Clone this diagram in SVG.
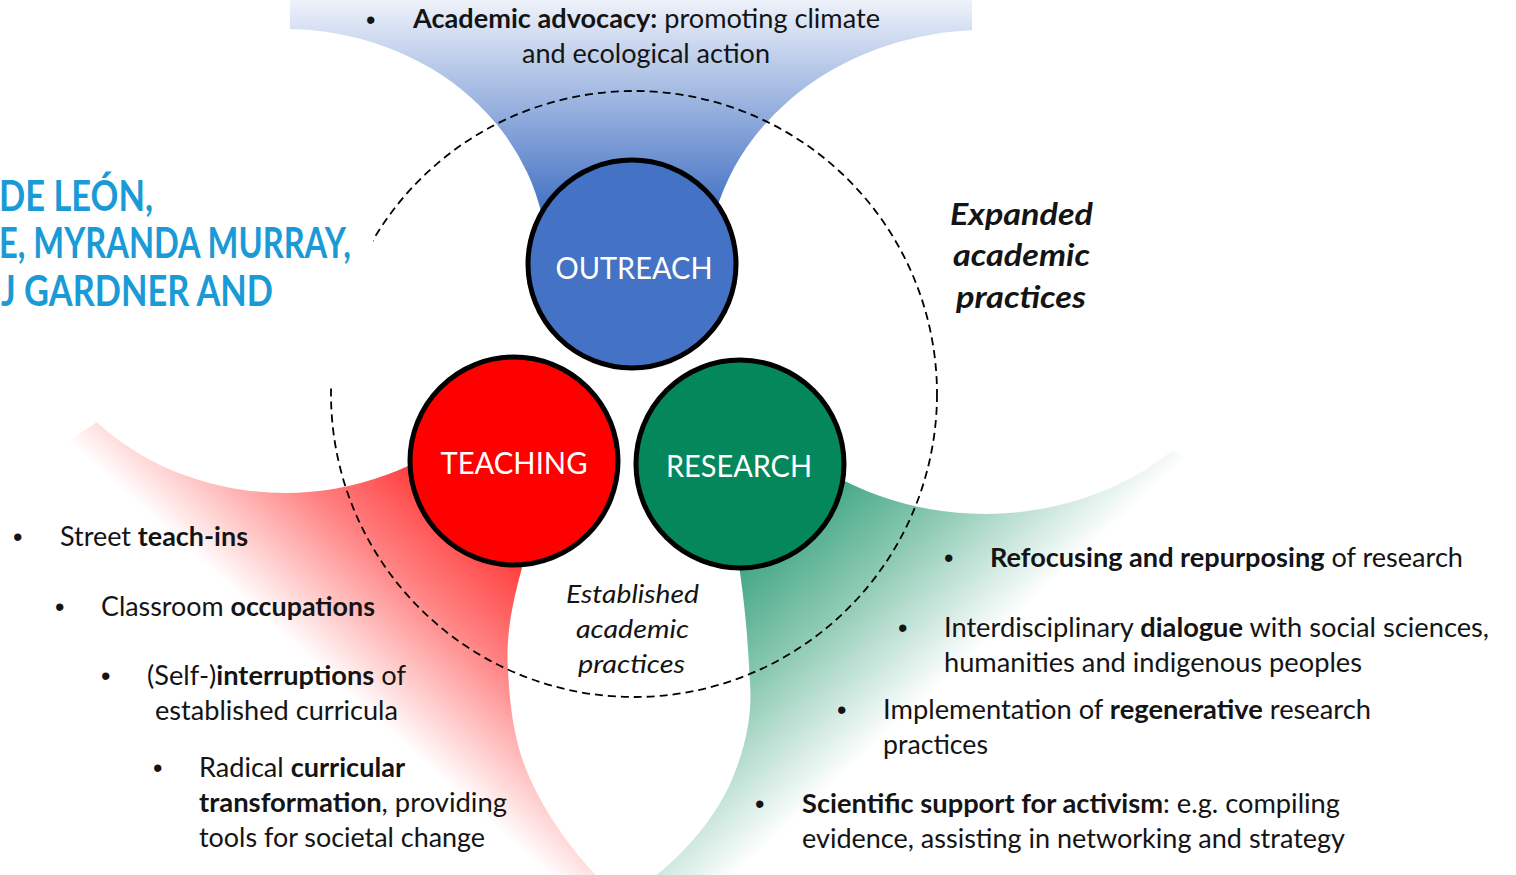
<svg xmlns="http://www.w3.org/2000/svg" width="1516" height="875" viewBox="0 0 1516 875">
<style>
.t{font-family:Lato,"Liberation Sans",sans-serif;font-size:26px;fill:#141414}
.b{font-weight:bold}
.bul{font-family:"Liberation Sans",sans-serif;font-size:27px;fill:#141414}
.lab{font-family:Lato,"Liberation Sans",sans-serif;font-size:31px;fill:#ffffff;text-anchor:middle}
.ital{font-family:Lato,"Liberation Sans",sans-serif;font-style:italic;fill:#141414}
.ttl{font-family:Lato,"Liberation Sans",sans-serif;font-weight:bold;font-size:42px;fill:#1a9ad6}
.node{stroke:#000;stroke-width:5}
.white{fill:#ffffff}
</style>
<defs>
<linearGradient id="gBlue" gradientUnits="userSpaceOnUse" x1="0" y1="0" x2="0" y2="210">
<stop offset="0" stop-color="#eef2fa"/>
<stop offset="1" stop-color="#4472c4"/>
</linearGradient>
<linearGradient id="gRed" gradientUnits="userSpaceOnUse" x1="250" y1="268" x2="82" y2="454">
<stop offset="0" stop-color="#ff2020"/>
<stop offset="0.5" stop-color="#ff8282"/>
<stop offset="1" stop-color="#ffffff"/>
</linearGradient>
<linearGradient id="gGreen" gradientUnits="userSpaceOnUse" x1="1026" y1="270" x2="1194" y2="452">
<stop offset="0" stop-color="#2f9d78"/>
<stop offset="0.5" stop-color="#8fcbb5"/>
<stop offset="1" stop-color="#ffffff"/>
</linearGradient>
</defs>
<rect width="1516" height="875" fill="#ffffff"/>
<g id="fans">
<rect x="290" y="0" width="682" height="235" fill="url(#gBlue)"/>
<path d="M100,420 L460,400 L560,560 L650,900 L540,911 L40,460 Z" fill="url(#gRed)"/>
<path d="M1166,448 L790,380 L700,560 L610,900 L725,931 L1225,470 Z" fill="url(#gGreen)"/>
<ellipse class="white" cx="285" cy="261" rx="262" ry="232"/>
<ellipse class="white" cx="985" cy="272" rx="278" ry="242"/>
<path class="white" d="M530,540 C515,590 505,630 508,670 C511,730 520,760 537,793 C552,822 572,850 600,880 L650,880 C690,850 720,810 733,777 C748,740 752,710 750,683 C748,640 745,600 735,540 Z"/>
</g>
<g id="connectors">
<circle cx="634" cy="394" r="303" fill="none" stroke="#000" stroke-width="1.8" stroke-dasharray="8 5"/>
</g>
<g id="title">
<rect x="0" y="140" width="373" height="244" fill="#ffffff"/>
<text class="ttl" x="-1" y="211" textLength="154" lengthAdjust="spacingAndGlyphs">DE LEÓN,</text>
<text class="ttl" x="-1" y="258" textLength="352" lengthAdjust="spacingAndGlyphs">E, MYRANDA MURRAY,</text>
<text class="ttl" x="1" y="306" textLength="272" lengthAdjust="spacingAndGlyphs">J GARDNER AND</text>
</g>
<g id="outreach">
<circle class="node" cx="632" cy="264" r="104" fill="#4472c4"/>
<text class="lab" x="634" y="279" textLength="157" lengthAdjust="spacingAndGlyphs">OUTREACH</text>
</g>
<g id="teaching">
<circle class="node" cx="514" cy="461" r="104" fill="#ff0000"/>
<text class="lab" x="514" y="474" textLength="147" lengthAdjust="spacingAndGlyphs">TEACHING</text>
</g>
<g id="research">
<circle class="node" cx="740" cy="464" r="104" fill="#03875b"/>
<text class="lab" x="739" y="477" textLength="146" lengthAdjust="spacingAndGlyphs">RESEARCH</text>
</g>
<g id="outreach-text">
<text class="bul" x="366" y="29">•</text>
<text class="t" x="413" y="28" textLength="467" lengthAdjust="spacingAndGlyphs"><tspan class="b">Academic advocacy:</tspan> promoting climate</text>
<text class="t" x="522" y="63" textLength="248" lengthAdjust="spacingAndGlyphs">and ecological action</text>
</g>
<g id="expanded">
<text class="ital b" font-size="30" x="950" y="225" textLength="143" lengthAdjust="spacingAndGlyphs">Expanded</text>
<text class="ital b" font-size="30" x="953" y="266" textLength="137" lengthAdjust="spacingAndGlyphs">academic</text>
<text class="ital b" font-size="30" x="956" y="308" textLength="130" lengthAdjust="spacingAndGlyphs">practices</text>
</g>
<g id="established">
<text class="ital" font-size="26" x="566" y="603" textLength="133" lengthAdjust="spacingAndGlyphs">Established</text>
<text class="ital" font-size="26" x="576" y="638" textLength="113" lengthAdjust="spacingAndGlyphs">academic</text>
<text class="ital" font-size="26" x="578" y="673" textLength="107" lengthAdjust="spacingAndGlyphs">practices</text>
</g>
<g id="teaching-text">
<text class="bul" x="13" y="546">•</text>
<text class="t" x="60" y="546" textLength="188" lengthAdjust="spacingAndGlyphs">Street <tspan class="b">teach-ins</tspan></text>
<text class="bul" x="55" y="616">•</text>
<text class="t" x="101" y="616" textLength="274" lengthAdjust="spacingAndGlyphs">Classroom <tspan class="b">occupations</tspan></text>
<text class="bul" x="101" y="685">•</text>
<text class="t" x="147" y="685" textLength="259" lengthAdjust="spacingAndGlyphs">(Self-)<tspan class="b">interruptions</tspan> of</text>
<text class="t" x="155" y="720" textLength="243" lengthAdjust="spacingAndGlyphs">established curricula</text>
<text class="bul" x="153" y="777">•</text>
<text class="t" x="199" y="777" textLength="206" lengthAdjust="spacingAndGlyphs">Radical <tspan class="b">curricular</tspan></text>
<text class="t" x="199" y="812" textLength="308" lengthAdjust="spacingAndGlyphs"><tspan class="b">transformation</tspan>, providing</text>
<text class="t" x="199" y="847" textLength="286" lengthAdjust="spacingAndGlyphs">tools for societal change</text>
</g>
<g id="research-text">
<text class="bul" x="944" y="567">•</text>
<text class="t" x="990" y="567" textLength="473" lengthAdjust="spacingAndGlyphs"><tspan class="b">Refocusing and repurposing</tspan> of research</text>
<text class="bul" x="898" y="637">•</text>
<text class="t" x="944" y="637" textLength="545" lengthAdjust="spacingAndGlyphs">Interdisciplinary <tspan class="b">dialogue</tspan> with social sciences,</text>
<text class="t" x="944" y="672" textLength="418" lengthAdjust="spacingAndGlyphs">humanities and indigenous peoples</text>
<text class="bul" x="837" y="719">•</text>
<text class="t" x="883" y="719" textLength="488" lengthAdjust="spacingAndGlyphs">Implementation of <tspan class="b">regenerative</tspan> research</text>
<text class="t" x="883" y="754" textLength="105" lengthAdjust="spacingAndGlyphs">practices</text>
<text class="bul" x="755" y="813">•</text>
<text class="t" x="802" y="813" textLength="538" lengthAdjust="spacingAndGlyphs"><tspan class="b">Scientific support for activism</tspan>: e.g. compiling</text>
<text class="t" x="802" y="848" textLength="543" lengthAdjust="spacingAndGlyphs">evidence, assisting in networking and strategy</text>
</g>
</svg>
